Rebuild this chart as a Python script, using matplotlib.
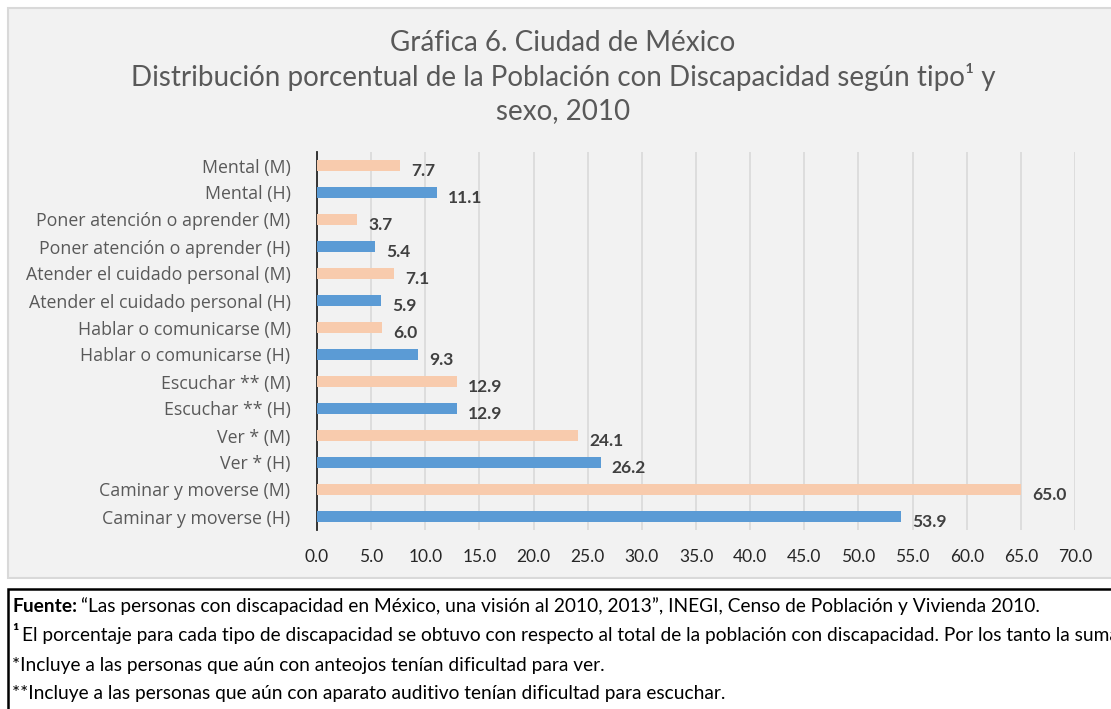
import matplotlib
matplotlib.use("Agg")
import matplotlib.pyplot as plt
from matplotlib.patches import Rectangle

plt.rcParams['font.family'] = ['Lato', 'DejaVu Sans']

categories = [
    "Caminar y moverse (H)", "Caminar y moverse (M)",
    "Ver * (H)", "Ver * (M)",
    "Escuchar ** (H)", "Escuchar ** (M)",
    "Hablar o comunicarse (H)", "Hablar o comunicarse (M)",
    "Atender el cuidado personal (H)", "Atender el cuidado personal (M)",
    "Poner atención o aprender (H)", "Poner atención o aprender (M)",
    "Mental (H)", "Mental (M)",
]
values = [53.9, 65.0, 26.2, 24.1, 12.9, 12.9, 9.3, 6.0, 5.9, 7.1, 5.4, 3.7, 11.1, 7.7]
sexes = ["H", "M"] * 7
colors_by_sex = {"H": "#5b9bd5", "M": "#f8cbad"}
xticks = [0, 5, 10, 15, 20, 25, 30, 35, 40, 45, 50, 55, 60, 65, 70]

title = ("Gráfica 6. Ciudad de México\n"
         "Distribución porcentual de la Población con Discapacidad según tipo¹ y\n"
         "sexo, 2010")

W, H = 1111, 709
fig = plt.figure(figsize=(W / 100, H / 100), dpi=100)
fig.patch.set_facecolor("white")

# chart area background
fig.patches.append(Rectangle((8 / W, 1 - 578 / H), 1.2, (578 - 8) / H,
                             transform=fig.transFigure, facecolor="#f2f2f2",
                             edgecolor="#d9d9d9", linewidth=1.5, zorder=0))
# footer box
fig.patches.append(Rectangle((8 / W, -0.05), 1.2, 0.05 + (709 - 589) / H,
                             transform=fig.transFigure, facecolor="white",
                             edgecolor="black", linewidth=1.8, zorder=0))

ax = fig.add_axes([317 / W, 1 - 530 / H, (1075 - 317) / W, (530 - 152) / H])
ax.set_zorder(2)
ax.patch.set_alpha(0)

ypos = list(range(len(categories)))
bar_colors = [colors_by_sex[s] for s in sexes]
ax.barh(ypos, values, height=0.42, color=bar_colors, zorder=3)
for y, v in zip(ypos, values):
    ax.annotate(f"{v:.1f}", xy=(v, y), xytext=(8, -4), textcoords="offset points",
                ha="left", va="center", fontsize=12.5, fontweight="bold",
                color="#404040", zorder=4)

ax.set_xlim(0, 70)
ax.set_ylim(-0.5, 13.5)
ax.set_xticks(xticks)
ax.set_xticklabels([f"{t:.1f}" for t in xticks], fontsize=12.5, color="#262626")
ax.set_yticks(ypos)
ax.set_yticklabels(categories, fontsize=12.8, color="#595959",
                   family=["Open Sans", "DejaVu Sans"])
ax.tick_params(axis="both", length=0)
ax.tick_params(axis="x", pad=14)
ax.tick_params(axis="y", pad=19)
ax.grid(axis="x", color="#d9d9d9", linewidth=1.2, zorder=0)
for s in ["top", "right", "bottom"]:
    ax.spines[s].set_visible(False)
ax.spines["left"].set_color("#262626")
ax.spines["left"].set_linewidth(1.3)
ax.set_axisbelow(True)

fig.text(563 / W, 1 - 77 / H, title, ha="center", va="center", fontsize=20,
         color="#595959", linespacing=1.3)

# footer
fs = 13.8
fx = 12 / W
fig.text(fx, 1 - 606 / H, "Fuente:", fontsize=fs, fontweight="bold", va="center", color="black")
fig.text(fx + 69 / W, 1 - 606 / H,
         "“Las personas con discapacidad en México, una visión al 2010, 2013”, INEGI, Censo de Población y Vivienda 2010.",
         fontsize=fs, va="center", color="black")
fig.text(fx, 1 - 633 / H, "¹", fontsize=fs, fontweight="bold", va="center", color="black")
fig.text(fx + 10 / W, 1 - 636 / H,
         "El porcentaje para cada tipo de discapacidad se obtuvo con respecto al total de la población con discapacidad. Por los tanto la suma puede ser mayor a 100.",
         fontsize=fs, va="center", color="black")
fig.text(fx, 1 - 665 / H, "*Incluye a las personas que aún con anteojos tenían dificultad para ver.",
         fontsize=fs, va="center", color="black")
fig.text(fx, 1 - 694 / H, "**Incluye a las personas que aún con aparato auditivo tenían dificultad para escuchar.",
         fontsize=fs, va="center", color="black")

fig.savefig("out.png", dpi=100)
